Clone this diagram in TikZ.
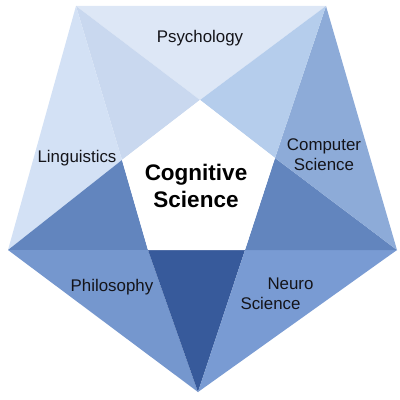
\documentclass[tikz,border=0pt]{standalone}
\usepackage{fontspec}
\setmainfont{Liberation Sans}
\definecolor{psyblue}{RGB}{221, 231, 246}
\definecolor{paleblue}{RGB}{201, 216, 239}
\definecolor{lingblue}{RGB}{211, 225, 245}
\definecolor{skyblue}{RGB}{181, 205, 236}
\definecolor{compblue}{RGB}{141, 171, 216}
\definecolor{midblue}{RGB}{98, 133, 190}
\definecolor{philblue}{RGB}{117, 151, 206}
\definecolor{neuroblue}{RGB}{121, 155, 211}
\definecolor{deepblue}{RGB}{55, 90, 155}
\definecolor{textgray}{RGB}{20, 20, 25}
\usetikzlibrary{positioning}

\begin{document}
\begin{tikzpicture}[x=0.025cm, y=-0.025cm,
    field/.style={font=\fontsize{12}{14}\selectfont, text=textgray, align=center},
    core/.style={font=\bfseries\fontsize{16}{19}\selectfont, text=black, align=center}]
            \useasboundingbox (0,0) rectangle (400,400);
            % outer corners
            \coordinate (TL) at (76,6);
            \coordinate (TR) at (326,6);
            \coordinate (R) at (397,250);
            \coordinate (B) at (198,392);
            \coordinate (L) at (8,250);
            % inner corners
            \coordinate (iT) at (200,100);
            \coordinate (iR) at (275,158);
            \coordinate (iBR) at (245,250);
            \coordinate (iBL) at (148,250);
            \coordinate (iL) at (122,160);
            \fill[psyblue] (TL) -- (TR) -- (iT) -- cycle;
            \fill[paleblue] (TL) -- (iT) -- (iL) -- cycle;
            \fill[lingblue] (TL) -- (iL) -- (L) -- cycle;
            \fill[midblue] (L) -- (iL) -- (iBL) -- cycle;
            \fill[philblue] (L) -- (iBL) -- (B) -- cycle;
            \fill[deepblue] (B) -- (iBL) -- (iBR) -- cycle;
            \fill[neuroblue] (B) -- (iBR) -- (R) -- cycle;
            \fill[midblue] (R) -- (iBR) -- (iR) -- cycle;
            \fill[compblue] (R) -- (iR) -- (TR) -- cycle;
            \fill[skyblue] (TR) -- (iR) -- (iT) -- cycle;
            \fill[white] (iT) -- (iR) -- (iBR) -- (iBL) -- (iL) -- cycle;
            \node[field] (psy) at (200,38) {Psychology};
            \node[field] (ling) at (77,158) {Linguistics};
            \node[field] (comp) at (324,155) {Computer\\Science};
            \node[field] (phil) at (112,287) {Philosophy};
            \node[field, align=left] (neuro) at (277,294) {\hspace*{1.6em}Neuro\\Science};
            \node[core] (cog) at (196,186) {Cognitive\\Science};
        \end{tikzpicture}
\end{document}
